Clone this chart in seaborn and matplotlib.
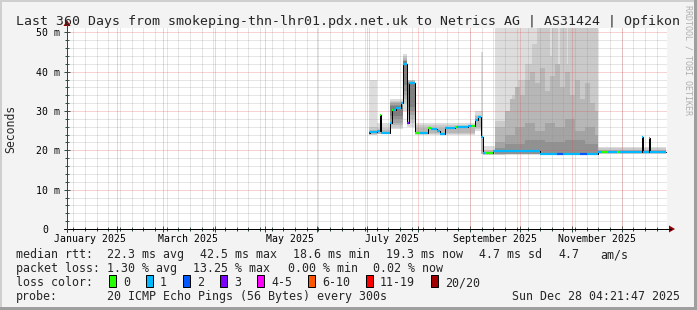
import numpy as np
import pandas as pd
import matplotlib
matplotlib.use("Agg")
import matplotlib.pyplot as plt
import matplotlib.transforms as mtrans
from matplotlib.patches import Rectangle, Polygon
import seaborn as sns

# ---------------- data ----------------
TITLE = "Last 360 Days from smokeping-thn-lhr01.pdx.net.uk to Netrics AG | AS31424 | Opfikon"
X_START, X_END = 1.18, 361.18          # days since 2025-01-01 00:00
MONTH_START = [31, 59, 90, 120, 151, 181, 212, 243, 273, 304, 334]
LABEL_MONTH = [0, 59, 120, 181, 243, 304]
MONTH_LABELS = ["January 2025", "March 2025", "May 2025", "July 2025",
                "September 2025", "November 2025"]
Y_TICKS = [0, 10, 20, 30, 40, 50]
Y_LABELS = ["0", "10 m", "20 m", "30 m", "40 m", "50 m"]

# median rtt (ms) as steps: start day, value, loss class
med_t = [182.4, 183.0, 187.2, 189.0, 189.6, 195.0, 196.2, 197.0, 198.6, 201.6,
         202.8, 205.2, 206.4, 210.0, 213.0, 217.8, 219.6, 223.2, 225.0, 228.0,
         234.0, 235.2, 241.8, 244.2, 246.0, 247.8, 249.6, 250.8, 252.0, 256.8,
         285.0, 295.2, 298.8, 309.0, 313.2, 319.8, 322.2, 325.8, 331.2, 333.0,
         346.2, 346.8, 350.4, 351.0]
med_ms = [24.4, 24.6, 25.0, 29.0, 24.5, 27.0, 30.2, 30.2, 30.7, 32.0,
          42.0, 27.0, 37.0, 24.5, 24.5, 25.8, 25.5, 24.8, 24.2, 25.8,
          25.9, 26.0, 26.2, 26.2, 27.7, 28.5, 23.5, 19.2, 19.2, 19.8,
          19.1, 19.0, 19.1, 19.0, 19.1, 19.5, 19.5, 19.5, 19.6, 19.5,
          23.3, 19.5, 23.2, 19.5]
med_loss = [3, 1, 1, 0, 1, 1, 0, 1, 1, 1,
            1, 3, 1, 0, 1, 0, 1, 1, 1, 1,
            0, 1, 1, 0, 1, 1, 1, 1, 0, 1,
            1, 2, 1, 2, 1, 1, 0, 1, 0, 1,
            1, 1, 1, 1]
MED_END = 360.6

# smoke bands (start day, low ms, high ms); NaN = no data
smoke_1 = [(182.4, 24.0, 51.5), (183.0, 24.0, 38.0), (187.2, 24.2, 27.0),
           (195.0, 25.5, 33.0), (202.8, 30.0, 44.5), (205.2, 26.0, 38.0),
           (210.0, 24.0, 27.0), (246.0, 25.0, 30.0), (249.6, 19.0, 45.0),
           (250.8, 18.8, 21.0), (258.0, 18.8, 51.5), (319.8, 19.0, 20.8),
           (360.6, np.nan, np.nan)]
smoke_2 = [(182.4, 24.0, 26.0), (187.2, 24.2, 25.8), (195.0, 26.0, 32.5),
           (202.8, 32.0, 44.0), (205.2, 27.0, 37.8), (210.0, 24.2, 26.5),
           (246.0, 25.5, 29.0), (249.6, 19.0, 30.0), (250.8, 18.9, 20.2),
           (258.0, 18.9, 27.5), (264.0, 19.0, 30.0), (268.0, 19.0, 34.0),
           (272.0, 19.0, 38.0), (276.0, 19.0, 42.0), (280.0, 19.0, 47.0),
           (283.0, 19.0, 51.5), (291.0, 19.0, 44.0), (292.0, 19.0, 51.5),
           (296.0, 19.0, 40.0), (297.0, 19.0, 51.5), (301.0, 19.0, 42.0),
           (302.0, 19.0, 51.5), (319.8, 19.1, 20.5), (360.6, np.nan, np.nan)]
smoke_3 = [(182.4, 24.2, 25.2), (195.0, 26.5, 32.2), (202.8, 33.0, 43.5),
           (205.2, 28.0, 37.6), (210.0, 24.3, 25.8), (246.0, 26.0, 28.8),
           (249.6, 19.0, 23.0), (250.8, 19.0, 19.8), (258.0, 19.0, 26.0),
           (264.0, 19.0, 30.0), (267.0, 19.0, 33.0), (270.0, 19.0, 36.0),
           (273.0, 19.0, 34.0), (276.0, 19.0, 38.0), (279.0, 19.0, 40.0),
           (282.0, 19.0, 37.0), (285.0, 18.8, 41.0), (288.0, 18.8, 35.0),
           (291.0, 18.8, 39.0), (294.0, 18.8, 42.0), (297.0, 18.8, 36.0),
           (300.0, 18.8, 40.0), (303.0, 18.8, 34.0), (306.0, 18.8, 38.0),
           (309.0, 18.8, 33.0), (312.0, 18.8, 37.0), (315.0, 18.8, 32.0),
           (318.0, 18.8, 30.0), (319.8, 19.2, 20.2), (360.6, np.nan, np.nan)]
smoke_4 = [(195.0, 27.0, 32.0), (202.8, 34.0, 43.0), (205.2, 29.0, 37.4),
           (210.0, np.nan, np.nan), (258.0, 19.0, 22.0), (264.0, 19.0, 24.0),
           (270.0, 19.0, 26.0), (276.0, 19.0, 27.0), (282.0, 19.0, 25.0),
           (288.0, 19.0, 27.0), (294.0, 19.0, 26.0), (300.0, 19.0, 28.0),
           (306.0, 19.0, 25.0), (312.0, 19.0, 26.0), (318.0, 19.0, 24.0),
           (319.8, np.nan, np.nan)]
smoke_5 = [(195.0, 28.0, 31.6), (202.8, 35.0, 42.8), (205.2, 30.0, 37.2),
           (210.0, np.nan, np.nan), (258.0, 19.0, 20.5), (264.0, 19.0, 21.5),
           (276.0, 19.0, 22.5), (288.0, 19.0, 22.0), (300.0, 19.0, 22.5),
           (312.0, 19.0, 21.5), (319.8, np.nan, np.nan)]
smoke_6 = [(195.0, 28.8, 31.2), (202.8, 36.5, 42.6), (205.2, 31.0, 37.1),
           (210.0, np.nan, np.nan)]

LOSS_COLORS = ["#26ff00", "#00b8ff", "#0059ff", "#7e00ff",
               "#ff00ff", "#ff5500", "#ff0000", "#a10000"]
LOSS_LABELS = ["0", "1", "2", "3", "4-5", "6-10", "11-19", "20/20"]

ROW_RTT = [("median rtt:", 16), ("22.3 ms avg", 107.3), ("42.5 ms max", 200),
           ("18.6 ms min", 293.3), ("19.3 ms now", 386), ("4.7 ms sd", 479.3),
           ("4.7", 558.3), ("am/s", 600)]
ROW_LOSS = [("packet loss:", 16), ("1.30 % avg", 107.3), ("13.25 % max", 193.3),
            ("0.00 % min", 288), ("0.02 % now", 372.7)]
PROBE = "20 ICMP Echo Pings (56 Bytes) every 300s"
STAMP = "Sun Dec 28 04:21:47 2025"

# ---------------- style ----------------
W, H = 697, 310
sns.set_style("white")
plt.rcParams["font.family"] = ["DejaVu Sans Mono", "DejaVu Sans"]
BACK = "#f3f3f3"
AXIS = "#2c4d43"
ARROW = "#8b0000"
GRID = (0.56, 0.56, 0.56, 0.45)
MGRID = (0.87, 0.31, 0.31, 0.5)
DOT = (0, (1, 1))
PX = 0.72  # 1 pixel in points at 100 dpi

fig = plt.figure(figsize=(W / 100, H / 100), dpi=100, facecolor=BACK)
L, R, T, B = 67, 667, 28, 229
ax = fig.add_axes([L / W, (H - B) / H, (R - L) / W, (B - T) / H])
ax.set_facecolor("white")
ax.set_xlim(X_START, X_END)
ax.set_ylim(0, (B - T) / 3.934)
for s in ax.spines.values():
    s.set_visible(False)


def fx(x):
    return x / W


def fy(y):
    return 1 - y / H


# smoke
SMOKE_COLORS = ["#dddddd", "#cacaca", "#b7b7b7", "#a4a4a4", "#919191", "#7e7e7e"]


def band(steps, color):
    xs, lo, hi = [], [], []
    for i in range(len(steps) - 1):
        t0, a, b = steps[i]
        t1 = steps[i + 1][0]
        if np.isnan(a):
            xs.append(t0); lo.append(np.nan); hi.append(np.nan)
            continue
        xs += [t0, t1]; lo += [a, a]; hi += [b, b]
    ax.fill_between(xs, lo, hi, color=color, lw=0, zorder=1, antialiased=False)


for steps, col in zip([smoke_1, smoke_2, smoke_3, smoke_4, smoke_5, smoke_6], SMOKE_COLORS):
    band(steps, col)

# grid (drawn over smoke like rrdtool)
weeks = np.arange(5, 362, 7)
for w in weeks:
    if w > X_START:
        ax.axvline(w, color=GRID, lw=PX, ls=DOT, zorder=2, snap=True)
for y in np.arange(2, 51, 2):
    if y % 10:
        ax.axhline(y, color=GRID, lw=PX, ls=DOT, zorder=2, snap=True)
for m in MONTH_START:
    ax.axvline(m, color=MGRID, lw=PX, ls=DOT, zorder=2.1, snap=True)
for y in Y_TICKS[1:]:
    ax.axhline(y, color=MGRID, lw=PX, ls=DOT, zorder=2.1, snap=True)

# median line
t_all = np.array(med_t + [MED_END])
df = pd.DataFrame({"day": t_all, "ms": med_ms + [med_ms[-1]]})
sns.lineplot(data=df, x="day", y="ms", drawstyle="steps-post", color="#000000",
             lw=PX, estimator=None, sort=False, ax=ax, zorder=5)
ax.hlines(med_ms, med_t, t_all[1:], colors=[LOSS_COLORS[l] for l in med_loss],
          lw=1.6, zorder=6)
ax.set_xlabel("")
ax.set_ylabel("")

# ticks
ax.set_xticks(MONTH_START)
ax.set_xticks(weeks[weeks > X_START], minor=True)
ax.set_yticks(Y_TICKS)
ax.set_yticks([y for y in range(2, 51, 2) if y % 10], minor=True)
ax.tick_params(which="both", labelbottom=False, labelleft=False, color=AXIS,
               width=PX, direction="inout", bottom=True, left=True)
ax.tick_params(which="major", length=4)
ax.tick_params(which="minor", length=2.5)

# axis lines with arrows
fig.add_artist(plt.Line2D([fx(L - 3), fx(R + 4)], [fy(B), fy(B)], color="#000000", lw=PX))
fig.add_artist(plt.Line2D([fx(L), fx(L)], [fy(B + 3), fy(T - 5)], color="#404040", lw=PX))
fig.add_artist(Polygon([[fx(R + 2), fy(B - 3.5)], [fx(R + 2), fy(B + 3.5)], [fx(R + 8), fy(B)]],
                       closed=True, color=ARROW, lw=0))
fig.add_artist(Polygon([[fx(L - 3.5), fy(T - 2)], [fx(L + 3.5), fy(T - 2)], [fx(L), fy(T - 8)]],
                       closed=True, color=ARROW, lw=0))

# labels
tr_x = mtrans.blended_transform_factory(ax.transData, fig.transFigure)
for m, lab in zip(LABEL_MONTH, MONTH_LABELS):
    ax.text(m + 15, fy(241.5), lab, transform=tr_x, ha="center", va="baseline",
            fontsize=7.1, color="#000000", clip_on=False)
tr_y = mtrans.blended_transform_factory(fig.transFigure, ax.transData)
for y, lab in zip(Y_TICKS, Y_LABELS):
    xr = 60 if y else 48
    ax.text(fx(xr), y, lab, transform=tr_y, ha="right", va="center_baseline",
            fontsize=7.1, color="#000000", clip_on=False)

fig.text(fx(348), fy(24.5), TITLE, ha="center", va="baseline", fontsize=9.5)
fig.text(fx(11), fy(128.5), "Seconds", rotation=90, ha="center", va="center", fontsize=8.3)
fig.text(fx(688), fy(5), "RRDTOOL / TOBI OETIKER", rotation=270, ha="center", va="top",
         fontsize=6.0, color="#b0b0b0")

LEG = 8.4
for s, x in ROW_RTT:
    fig.text(fx(x), fy(258.3), s, ha="left", va="baseline", fontsize=LEG)
for s, x in ROW_LOSS:
    fig.text(fx(x), fy(272.0), s, ha="left", va="baseline", fontsize=LEG)
fig.text(fx(16), fy(286.0), "loss color:", ha="left", va="baseline", fontsize=LEG)
box_x = [108.5, 145.5, 182.5, 219.5, 256.5, 307.5, 365.5, 430.5]
for bx, col, lab in zip(box_x, LOSS_COLORS, LOSS_LABELS):
    fig.add_artist(Rectangle((fx(bx), fy(287)), 7.5 / W, 12 / H, facecolor=col,
                             edgecolor="#000000", lw=PX))
    fig.text(fx(bx + 14.6), fy(286.0), lab, ha="left", va="baseline", fontsize=LEG)
fig.text(fx(16), fy(300.0), "probe:", ha="left", va="baseline", fontsize=LEG)
fig.text(fx(107.3), fy(300.0), PROBE, ha="left", va="baseline", fontsize=LEG)
fig.text(fx(680), fy(300.0), STAMP, ha="right", va="baseline", fontsize=LEG)

# 3d frame
fig.add_artist(Rectangle((0, 0), 2 / W, 1, facecolor="#cfcfcf", lw=0))
fig.add_artist(Rectangle((0, 1 - 2 / H), 1, 2 / H, facecolor="#cfcfcf", lw=0))
fig.add_artist(Rectangle((1 - 3 / W, 0), 3 / W, 1, facecolor="#9e9e9e", lw=0))
fig.add_artist(Rectangle((0, 0), 1, 3 / H, facecolor="#9e9e9e", lw=0))

fig.savefig("out.png", dpi=100, facecolor=BACK)
